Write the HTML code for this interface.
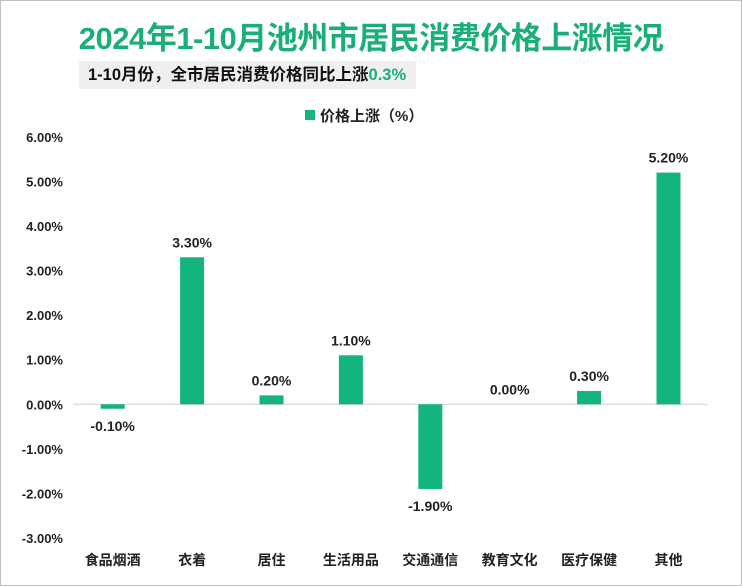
<!DOCTYPE html>
<html><head><meta charset="utf-8"><style>
body{margin:0;width:742px;height:586px;overflow:hidden;background:#fff;font-family:"Liberation Sans","Noto Sans CJK SC",sans-serif}
#frame{position:absolute;left:0;top:0;width:740px;height:584px;border:1px solid #bfbfbf}
#title{position:absolute;left:0;width:742px;top:13px;text-align:center;font-size:31px;font-weight:bold;color:#1aae78;letter-spacing:-0.5px}
#sub{position:absolute;left:79px;top:61px;width:337px;height:28px;background:#efefef;font-size:16.5px;font-weight:bold;line-height:28px;padding-left:9px;box-sizing:border-box;color:#111;white-space:nowrap}
#sub span{color:#1aae78}
svg{position:absolute;left:0;top:0}
</style></head><body>
<div id="frame"></div>
<div id="title">2024年1-10月池州市居民消费价格上涨情况</div>
<div id="sub">1-10月份，全市居民消费价格同比上涨<span>0.3%</span></div>
<svg id="c" width="742" height="586"></svg>
<script>
const categories=["食品烟酒","衣着","居住","生活用品","交通通信","教育文化","医疗保健","其他"];
const values=[-0.10,3.30,0.20,1.10,-1.90,0.00,0.30,5.20];
const ticks=[6,5,4,3,2,1,0,-1,-2,-3];
const NS="http://www.w3.org/2000/svg",svg=document.getElementById('c');
const y=v=>404.3-v*44.56, x0=73, step=79.4, x=i=>x0+step*(i+0.5);
function mk(t,a,txt){const e=document.createElementNS(NS,t);for(const k in a)e.setAttribute(k,a[k]);if(txt!=null)e.textContent=txt;svg.appendChild(e);return e;}
ticks.forEach(t=>{const e=mk('text',{x:63,y:y(t)+5,'text-anchor':'end','font-size':13,'font-weight':'bold',fill:'#222'},t.toFixed(2)+'%');

});
const ax=mk('line',{x1:x0,x2:708,y1:y(0),y2:y(0),stroke:'#d0d0d0'});


values.forEach((v,i)=>{
const b=mk('rect',{x:x(i)-12,width:24,y:Math.min(y(v),y(0)),height:Math.max(Math.abs(y(v)-y(0)),0.01),fill:'#13b47e'});


const ly=v>=0?y(v)-10:y(v)+22;
const l=mk('text',{x:x(i),y:ly,'text-anchor':'middle','font-size':14,'font-weight':'bold',fill:'#222'},v.toFixed(2)+'%');


const c=mk('text',{x:x(i),y:565,'text-anchor':'middle','font-size':14,'font-weight':'bold',fill:'#222'},categories[i]);


});
const ls=mk('rect',{x:305,y:110,width:10,height:10,fill:'#13b47e'});


const lt=mk('text',{x:320,y:121,'font-size':15,'font-weight':'bold',fill:'#222'},'价格上涨（%）');


</script>
</body></html>
